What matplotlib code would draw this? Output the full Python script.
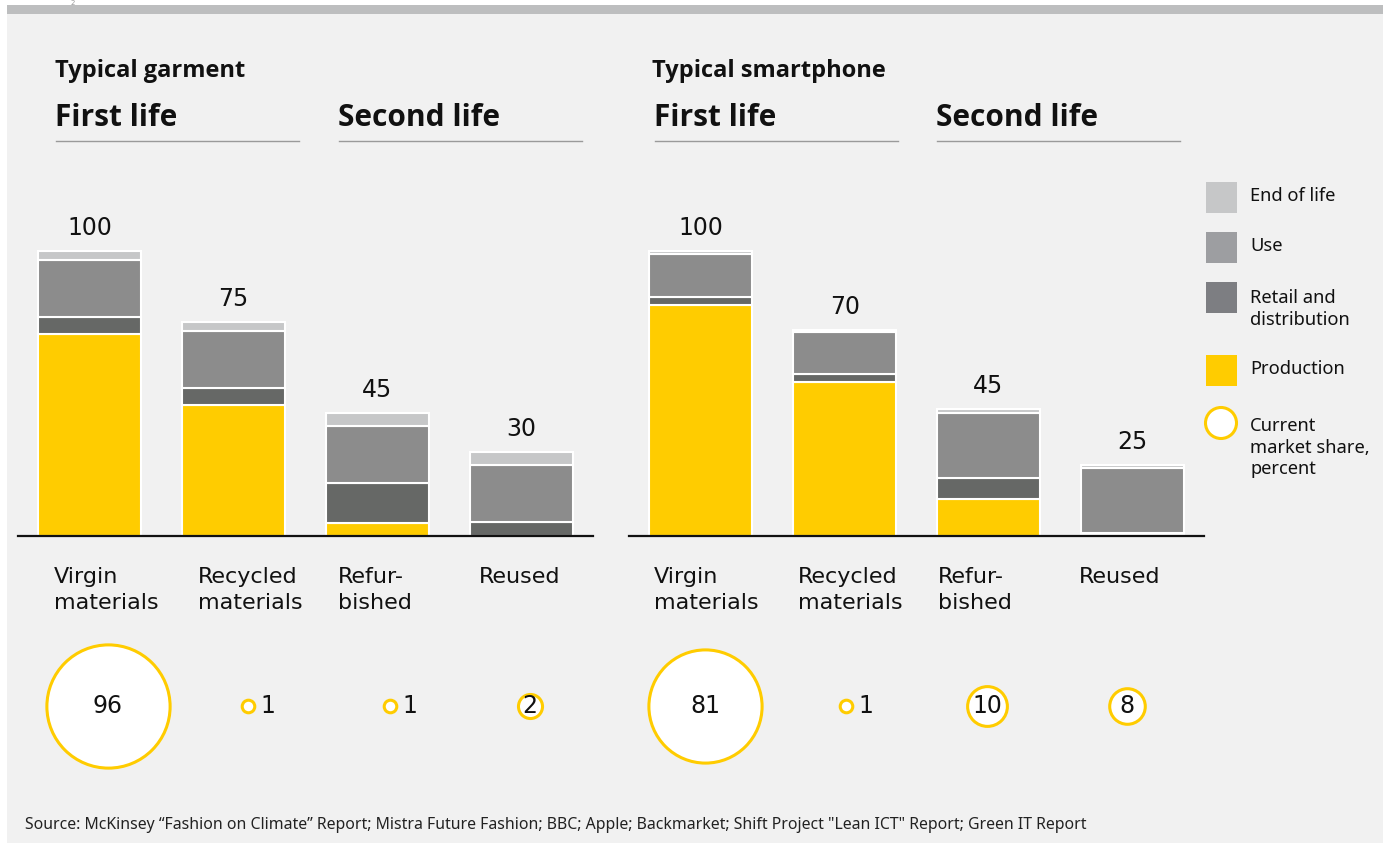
import matplotlib.pyplot as plt
from matplotlib.patches import Rectangle, Ellipse
from matplotlib.lines import Line2D

W, H = 1389, 843

# bar categories
categories = ['Virgin\nmaterials', 'Recycled\nmaterials', 'Refur-\nbished', 'Reused']

# garment footprint by stage (index, virgin = 100)
garment_production = [71, 46, 4.5, 0]
garment_retail = [6, 6, 14, 5]
garment_use = [20, 20, 20, 20]
garment_eol = [3, 3, 4.5, 4.5]
garment_totals = [100, 75, 45, 30]
garment_share = [96, 1, 1, 2]

# smartphone footprint by stage
phone_production = [81, 54, 13, 0.5]
phone_retail = [3, 3, 7.5, 0.5]
phone_use = [15, 14.5, 22.5, 23]
phone_eol = [1, 0.7, 1.5, 1]
phone_totals = [100, 70, 45, 25]
phone_share = [81, 1, 10, 8]

stage_names = ['End of life', 'Use', 'Retail and\ndistribution', 'Production']
bar_colors = ['#c6c7c8', '#8c8c8c', '#666866', '#ffcc00']
legend_colors = ['#c6c7c8', '#9d9ea1', '#7d7e82', '#ffcc00']
yellow = '#ffcc00'

head_font = ['Open Sans', 'DejaVu Sans']
text_font = ['Noto Sans', 'DejaVu Sans']
num_font = ['DejaVu Sans']


def fx(px):
    return px / W


def fy(py):
    return 1 - py / H


fig = plt.figure(figsize=(W / 100, H / 100), dpi=100, facecolor='white')
fig.patches.append(Rectangle((fx(7), 0), fx(1383) - fx(7), fy(5), transform=fig.transFigure,
                             facecolor='#f1f1f1', edgecolor='none', zorder=-10))
fig.patches.append(Rectangle((fx(7), fy(14)), fx(1383) - fx(7), fy(5) - fy(14), transform=fig.transFigure,
                             facecolor='#bdbebf', edgecolor='none', zorder=-10))
fig.text(fx(73), fy(3), '2', fontsize=5, color='#999999', ha='center', va='center')


def draw_chart(left_px, title, heads_px, prod, retail, use, eol, totals, share, label_dx, circle_off):
    ax = fig.add_axes([fx(left_px), fy(536), 575 / W, (536 - 180) / H])
    ax.set_facecolor('none')
    ax.set_xlim(-0.5, 3.5)
    ax.set_ylim(0, 356 / 2.85)
    for s in ['top', 'right', 'left']:
        ax.spines[s].set_visible(False)
    ax.spines['bottom'].set_linewidth(1.6)
    ax.spines['bottom'].set_color('#111111')
    ax.set_xticks([])
    ax.set_yticks([])

    x = list(range(len(categories)))
    bottom = [0] * len(x)
    for vals, col in zip([prod, retail, use, eol], bar_colors[::-1]):
        ax.bar(x, vals, bottom=bottom, width=0.717, color=col, edgecolor='white', linewidth=1.5)
        bottom = [b + v for b, v in zip(bottom, vals)]
    for i in x:
        ax.annotate(str(totals[i]), (i, bottom[i]), xytext=(0, 8), textcoords='offset points',
                    ha='center', va='bottom', fontsize=17, family=num_font, color='#111111')
        dx = label_dx - (6 if i == 3 else 0) - (3 if i == 2 else 0)
        ax.annotate(categories[i], (i, 0), xytext=(dx, -31), textcoords='offset pixels',
                    ha='left', va='top', fontsize=16, family=num_font, color='#111111',
                    linespacing=1.38, annotation_clip=False)

    # market share circles, area proportional to share
    axc = fig.add_axes([fx(left_px), fy(776), 575 / W, 140 / H])
    axc.set_xlim(-0.5, 3.5)
    axc.set_ylim(0, 1)
    axc.axis('off')
    for i, v in enumerate(share):
        size = 82 * v
        if v >= 2:
            size = max(size, 300)
        axc.scatter([i + circle_off[i]], [0.5], s=size, facecolor='white', edgecolor=yellow,
                    linewidth=2.2, clip_on=False, zorder=3)
        if v >= 2:
            axc.text(i + circle_off[i], 0.5, str(v), ha='center', va='center', fontsize=17,
                     family=num_font, color='#111111', zorder=4)
        else:
            axc.annotate(str(v), (i + circle_off[i], 0.5), xytext=(12, 0), textcoords='offset pixels',
                         ha='left', va='center', fontsize=17, family=num_font, color='#111111')

    # headings
    t_px, first_px, second_px = heads_px
    fig.text(fx(t_px), fy(71), title, fontsize=17, fontweight='bold', family=head_font,
             ha='left', va='center', color='#111111')
    for hx, txt in [(first_px, 'First life'), (second_px, 'Second life')]:
        fig.text(fx(hx), fy(118), txt, fontsize=21.5, fontweight='bold', family=head_font,
                 ha='left', va='center', color='#111111')
        fig.add_artist(Line2D([fx(hx + 1), fx(hx + 244)], [fy(141), fy(141)],
                              color='#9a9a9a', linewidth=1.0))


draw_chart(18, 'Typical garment', (55, 55, 338), garment_production, garment_retail, garment_use,
           garment_eol, garment_totals, garment_share, -36, [0.125, 0.1, 0.09, 0.06])
draw_chart(629, 'Typical smartphone', (652, 654, 936), phone_production, phone_retail, phone_use,
           phone_eol, phone_totals, phone_share, -47, [0.03, 0.01, -0.01, -0.035])

# legend
legend_tops = [182, 232, 282, 355]
legend_text_y = [196, 246, 309, 369]
for name, col, top, ty in zip(stage_names, legend_colors, legend_tops, legend_text_y):
    fig.patches.append(Rectangle((fx(1206), fy(top + 31)), 31 / W, 31 / H, transform=fig.transFigure,
                                 facecolor=col, edgecolor='none'))
    fig.text(fx(1250), fy(ty), name, fontsize=13.2, family=text_font, ha='left', va='center',
             color='#111111', linespacing=1.25)
fig.patches.append(Ellipse((fx(1221), fy(423)), 31 / W, 31 / H, transform=fig.transFigure,
                           facecolor='white', edgecolor=yellow, linewidth=2.2))
fig.text(fx(1250), fy(448), 'Current\nmarket share,\npercent', fontsize=13.2, family=text_font,
         ha='left', va='center', color='#111111', linespacing=1.25)

fig.text(fx(25), fy(825), 'Source: McKinsey \u201cFashion on Climate\u201d Report; Mistra Future Fashion; BBC; '
         'Apple; Backmarket; Shift Project "Lean ICT" Report; Green IT Report',
         fontsize=11.4, family=text_font, ha='left', va='center', color='#222222')

fig.savefig('out.png', dpi=100, facecolor=fig.get_facecolor())
